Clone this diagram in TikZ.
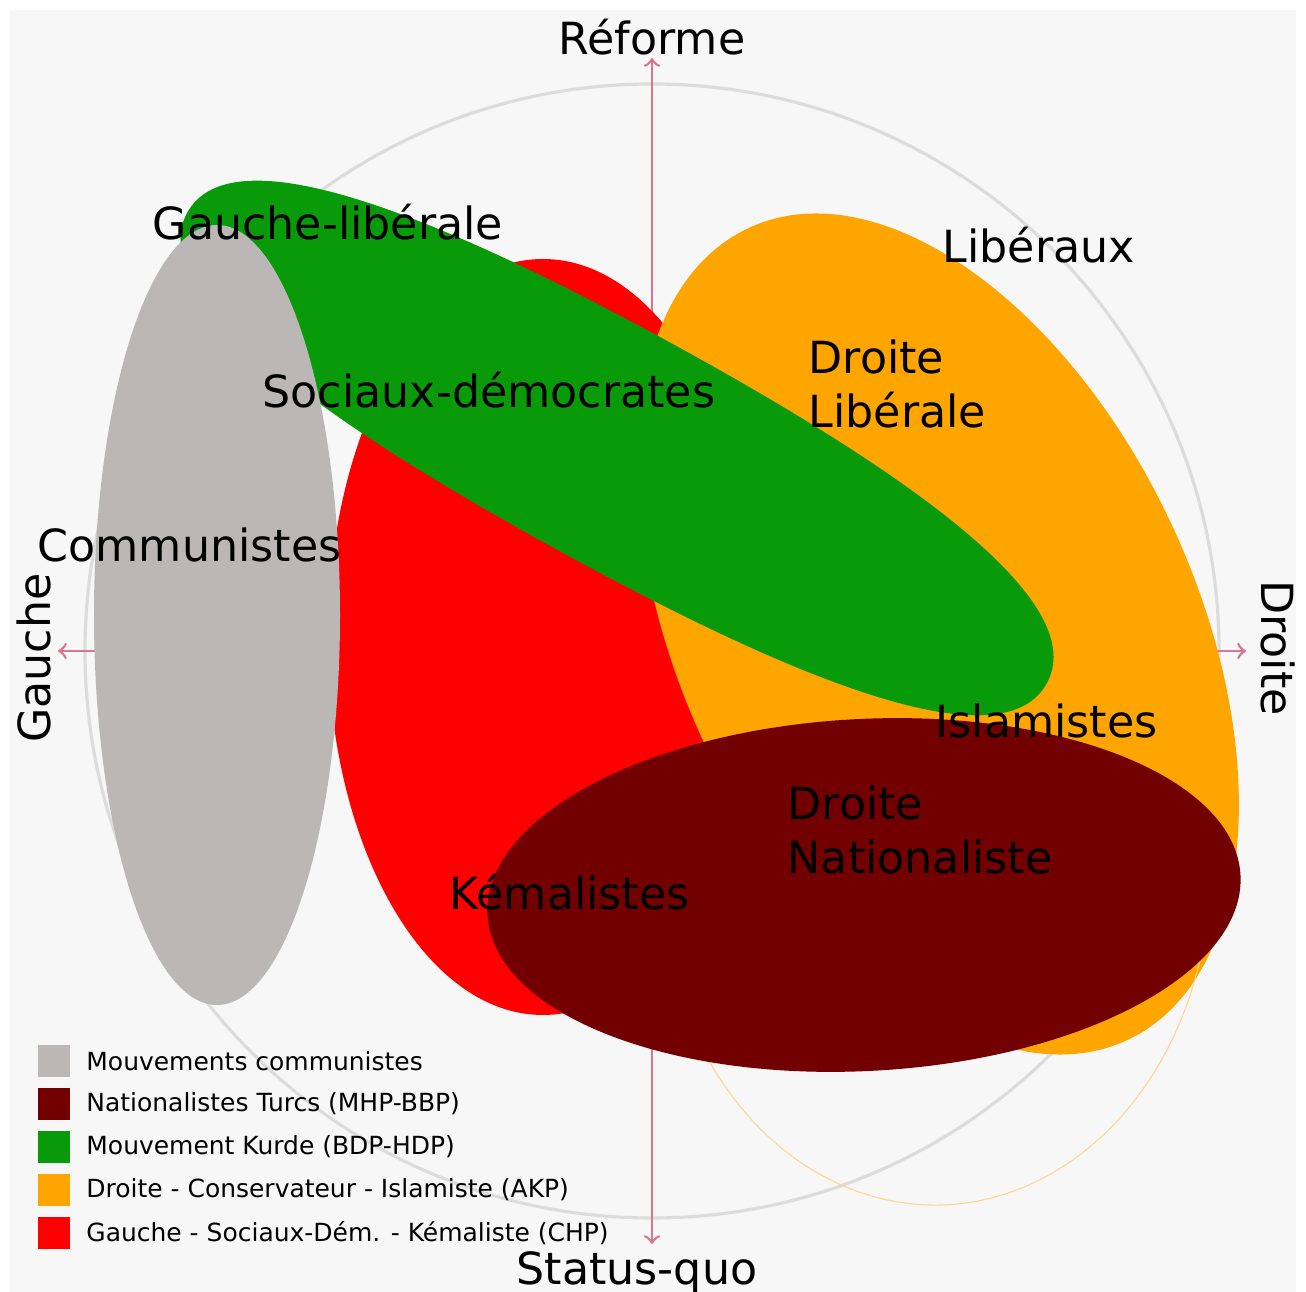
\documentclass[tikz,border=0pt]{standalone}
\usepackage{fontspec}
\setmainfont{DejaVu Sans}
\usepackage{xcolor}
\definecolor{commGray}{HTML}{BBB7B7}
\definecolor{nationRed}{HTML}{730000}
\definecolor{kurdGreen}{HTML}{089A08}
\definecolor{akpOrange}{HTML}{FFA500}
\definecolor{chpRed}{HTML}{FF0000}
\definecolor{axisPink}{HTML}{D8778F}
\definecolor{ringGray}{HTML}{DCDCDC}
\definecolor{paper}{HTML}{F7F7F7}
\usetikzlibrary{positioning}

\begin{document}
\begin{tikzpicture}[x=0.01cm, y=-0.01cm,
    axis/.style={draw=axisPink, line width=0.75pt, <->},
    ring/.style={draw=ringGray, line width=0.9pt},
    tag/.style={font=\fontsize{12.6}{15.6}\selectfont, inner sep=0pt, anchor=base west, align=left},
    axistag/.style={font=\fontsize{12.6}{15.6}\selectfont, inner sep=0pt, anchor=base},
    swatch/.style={minimum size=0.32cm, inner sep=0pt, draw=none},
    legendtext/.style={font=\fontsize{7.1}{8.5}\selectfont, inner sep=0pt}
]
\useasboundingbox (0,0) rectangle (1306,1292);
\fill[white] (0,0) rectangle (1306,1292);
\fill[paper] (10,10) rectangle (1296,1292);

% axes and ring
\coordinate (up) at (652,58);
\coordinate (down) at (652,1244);
\coordinate (leftend) at (58,651);
\coordinate (rightend) at (1246,651);
\coordinate (mid) at (652,651);
\draw[ring] (mid) circle [radius=567];
\draw[axis] (down) -- (up);
\draw[axis] (leftend) -- (rightend);

% party areas
\fill[chpRed] (543,637) ellipse [x radius=215, y radius=378];
\fill[akpOrange, rotate around={25:(938,634)}] (938,634) ellipse [x radius=258, y radius=448];
\coordinate (arccentre) at (935,870);
\draw[akpOrange!45, line width=0.3pt] (arccentre) ++(150:275 and 335) arc [start angle=150, end angle=10, x radius=275, y radius=335];
\begin{scope}[shift={(617,448)}, rotate=-28.7]
  \fill[kurdGreen] (490,0) .. controls (490,85) and (304,118) .. (0,118)
    .. controls (-304,118) and (-490,85) .. (-490,0)
    .. controls (-490,-85) and (-304,-118) .. (0,-118)
    .. controls (304,-118) and (490,-85) .. (490,0) -- cycle;
\end{scope}
\fill[nationRed, rotate around={3:(864,895)}] (864,895) ellipse [x radius=377, y radius=176];
\fill[commGray] (217,615) ellipse [x radius=123, y radius=390];

% labels
\node (reforme) [axistag] at (652,55) {Réforme};
\node (statusquo) [axistag] at (637,1284) {Status-quo};
\node (gauche) [axistag, rotate=90] at (51,658) {Gauche};
\node (droite) [axistag, rotate=-90] at (1261,648) {Droite};

\node (gauchelib) [tag] at (152,240) {Gauche-libérale};
\node (liberaux) [tag] at (942,263) {Libéraux};
\node (droitelib) [tag] at (808,428) {Droite\\Libérale};
\node (sociaux) [tag] at (262,408) {Sociaux-démocrates};
\node (communistes) [tag] at (37,562) {Communistes};
\node (islamistes) [tag] at (935,738) {Islamistes};
\node (droitenat) [tag] at (787,874) {Droite\\Nationaliste};
\node (kemalistes) [tag] at (449,910) {Kémalistes};

% legend
\node (sw1) [swatch, fill=commGray] at (54,1061) {};
\node (sw2) [swatch, fill=nationRed] at (54,1104) {};
\node (sw3) [swatch, fill=kurdGreen] at (54,1147) {};
\node (sw4) [swatch, fill=akpOrange] at (54,1190) {};
\node (sw5) [swatch, fill=chpRed] at (54,1233) {};
\node (lg1) [legendtext, right=0.15cm of sw1] {Mouvements communistes};
\node (lg2) [legendtext, right=0.15cm of sw2] {Nationalistes Turcs (MHP-BBP)};
\node (lg3) [legendtext, right=0.15cm of sw3] {Mouvement Kurde (BDP-HDP)};
\node (lg4) [legendtext, right=0.15cm of sw4] {Droite - Conservateur - Islamiste (AKP)};
\node (lg5) [legendtext, right=0.15cm of sw5] {Gauche - Sociaux-Dém. - Kémaliste (CHP)};
\end{tikzpicture}
\end{document}
